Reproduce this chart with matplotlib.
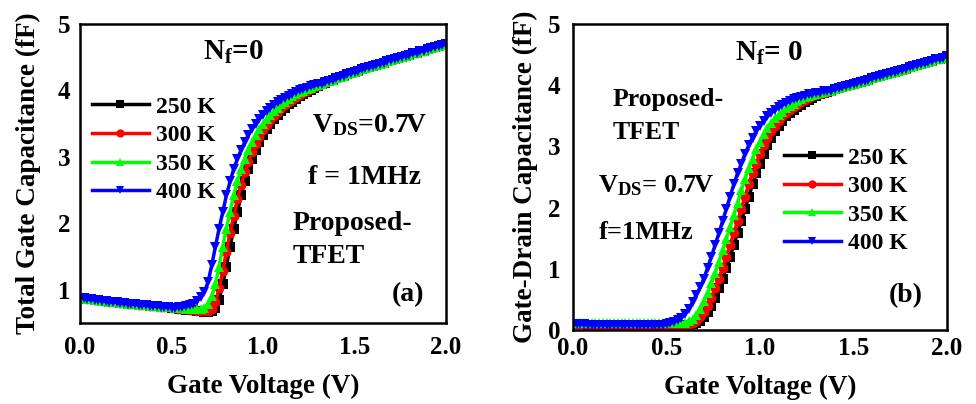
import numpy as np
import matplotlib
matplotlib.use('Agg')
import matplotlib.pyplot as plt

plt.rcParams['font.family'] = ['Liberation Serif', 'DejaVu Serif']
plt.rcParams['font.weight'] = 'bold'
plt.rcParams['mathtext.fontset'] = 'custom'
plt.rcParams['mathtext.rm'] = 'Liberation Serif:bold'
plt.rcParams['mathtext.bf'] = 'Liberation Serif:bold'
plt.rcParams['mathtext.it'] = 'Liberation Serif:bold'

# ---------------- data ----------------
gate_voltage = np.round(np.arange(0, 2.0001, 0.02), 2)   # 0.00 ... 2.00 V sweep
temps = ['250 K', '300 K', '350 K', '400 K']
colors = ['#000000', '#FF0000', '#00FF00', '#0000FF']
markers = ['s', 'o', '^', 'v']
x_ticks = [0.0, 0.5, 1.0, 1.5, 2.0]
x_tick_labels = ['0.0', '0.5', '1.0', '1.5', '2.0']

# Panel (a): total gate capacitance (fF)
# 0.00-0.48 V (curves coincide)
cgg_low = [0.88, 0.87, 0.86, 0.855, 0.85, 0.84, 0.835, 0.83, 0.82, 0.815, 0.81, 0.80, 0.795,
           0.79, 0.785, 0.78, 0.775, 0.77, 0.765, 0.76, 0.755, 0.75, 0.745, 0.74, 0.735]
# 0.50-1.36 V
cgg_250 = [0.73, 0.72, 0.715, 0.71, 0.70, 0.695, 0.69, 0.68, 0.675, 0.67,
           0.67, 0.68, 0.72, 0.85, 1.08, 1.35, 1.65, 1.92, 2.17, 2.42,
           2.63, 2.82, 2.97, 3.10, 3.22, 3.33, 3.42, 3.50, 3.57, 3.63,
           3.69, 3.74, 3.79, 3.83, 3.87, 3.91, 3.95, 3.98, 4.01, 4.04,
           4.07, 4.09, 4.11, 4.14]
cgg_300 = [0.73, 0.72, 0.715, 0.71, 0.705, 0.70, 0.69, 0.685, 0.68, 0.675,
           0.68, 0.71, 0.81, 1.02, 1.28, 1.57, 1.86, 2.11, 2.36, 2.58,
           2.77, 2.93, 3.07, 3.19, 3.30, 3.40, 3.48, 3.55, 3.62, 3.68,
           3.73, 3.78, 3.82, 3.86, 3.90, 3.93, 3.96, 3.99, 4.02, 4.05,
           4.07, 4.09, 4.11, 4.14]
cgg_350 = [0.735, 0.73, 0.725, 0.72, 0.715, 0.71, 0.705, 0.705, 0.71, 0.73,
           0.78, 0.90, 1.08, 1.35, 1.65, 1.92, 2.17, 2.42, 2.63, 2.82,
           2.97, 3.10, 3.22, 3.33, 3.42, 3.50, 3.57, 3.63, 3.69, 3.74,
           3.79, 3.83, 3.87, 3.91, 3.94, 3.97, 3.99, 4.02, 4.04, 4.06,
           4.08, 4.10, 4.12, 4.14]
cgg_400 = [0.73, 0.73, 0.735, 0.74, 0.75, 0.77, 0.79, 0.83, 0.89, 0.97,
           1.12, 1.37, 1.65, 1.92, 2.17, 2.42, 2.63, 2.82, 2.97, 3.10,
           3.22, 3.33, 3.42, 3.50, 3.57, 3.63, 3.69, 3.74, 3.78, 3.82,
           3.86, 3.89, 3.92, 3.95, 3.98, 4.00, 4.02, 4.04, 4.06, 4.08,
           4.09, 4.10, 4.12, 4.14]
# 1.38-2.00 V (curves coincide)
cgg_high = [4.16, 4.18, 4.20, 4.22, 4.24, 4.26, 4.28, 4.30, 4.32, 4.34,
            4.35, 4.37, 4.39, 4.40, 4.42, 4.44, 4.46, 4.47, 4.49, 4.51,
            4.52, 4.54, 4.56, 4.57, 4.59, 4.60, 4.62, 4.64, 4.65, 4.67,
            4.68, 4.70]

# Panel (b): gate-drain capacitance (fF)
cgd_low = [0.09, 0.09, 0.09, 0.09, 0.085, 0.085, 0.085, 0.085, 0.085, 0.08, 0.08, 0.08,
           0.08, 0.08, 0.08, 0.08, 0.08, 0.075, 0.075, 0.075, 0.075, 0.075, 0.075, 0.075, 0.075]
cgd_low_350 = [0.12, 0.12, 0.12, 0.12, 0.115, 0.115, 0.115, 0.115, 0.115, 0.11, 0.11, 0.11,
               0.11, 0.11, 0.11, 0.11, 0.11, 0.11, 0.11, 0.11, 0.11, 0.11, 0.11, 0.11, 0.11]
cgd_250 = [0.075, 0.075, 0.075, 0.075, 0.075, 0.075, 0.08, 0.09, 0.11, 0.15,
           0.21, 0.29, 0.40, 0.53, 0.68, 0.84, 1.02, 1.20, 1.39, 1.58,
           1.78, 1.98, 2.18, 2.38, 2.56, 2.72, 2.88, 3.02, 3.14, 3.25,
           3.34, 3.42, 3.49, 3.54, 3.59, 3.64, 3.68, 3.72, 3.76, 3.79,
           3.83, 3.85, 3.87, 3.89]
cgd_300 = [0.075, 0.075, 0.075, 0.075, 0.075, 0.08, 0.09, 0.11, 0.15, 0.21,
           0.29, 0.40, 0.53, 0.68, 0.84, 1.02, 1.20, 1.39, 1.58, 1.78,
           1.98, 2.18, 2.38, 2.56, 2.72, 2.88, 3.02, 3.14, 3.25, 3.34,
           3.42, 3.49, 3.54, 3.59, 3.64, 3.68, 3.72, 3.76, 3.79, 3.82,
           3.84, 3.86, 3.88, 3.89]
cgd_350 = [0.11, 0.11, 0.11, 0.11, 0.115, 0.12, 0.14, 0.18, 0.25, 0.35,
           0.47, 0.61, 0.76, 0.93, 1.11, 1.30, 1.49, 1.68, 1.88, 2.08,
           2.28, 2.47, 2.64, 2.80, 2.95, 3.08, 3.20, 3.30, 3.38, 3.46,
           3.52, 3.57, 3.62, 3.66, 3.70, 3.74, 3.77, 3.80, 3.82, 3.84,
           3.86, 3.87, 3.89, 3.90]
cgd_400 = [0.09, 0.11, 0.13, 0.16, 0.20, 0.26, 0.35, 0.46, 0.58, 0.70,
           0.84, 1.02, 1.20, 1.39, 1.58, 1.78, 1.98, 2.18, 2.38, 2.56,
           2.72, 2.88, 3.02, 3.14, 3.25, 3.34, 3.42, 3.49, 3.55, 3.60,
           3.64, 3.68, 3.71, 3.74, 3.77, 3.79, 3.81, 3.83, 3.85, 3.86,
           3.87, 3.88, 3.90, 3.91]
cgd_high = [3.91, 3.93, 3.95, 3.97, 3.98, 4.00, 4.02, 4.04, 4.06, 4.07,
            4.09, 4.11, 4.13, 4.15, 4.16, 4.18, 4.20, 4.22, 4.24, 4.25,
            4.27, 4.29, 4.31, 4.33, 4.34, 4.36, 4.38, 4.40, 4.42, 4.43,
            4.45, 4.47]

series_a = [cgg_low + cgg_250 + cgg_high,
            cgg_low + cgg_300 + cgg_high,
            cgg_low + cgg_350 + cgg_high,
            cgg_low + cgg_400 + cgg_high]
series_b = [cgd_low + cgd_250 + cgd_high,
            cgd_low + cgd_300 + cgd_high,
            cgd_low_350 + cgd_350 + cgd_high,
            cgd_low + cgd_400 + cgd_high]
for s in series_a + series_b:
    assert len(s) == len(gate_voltage), len(s)

# ---------------- figure ----------------
fig = plt.figure(figsize=(9.76, 4.04), dpi=100)
ax_a = fig.add_axes([80 / 976, 1 - 323 / 404, 366 / 976, 299 / 404])
ax_b = fig.add_axes([573 / 976, 1 - 330 / 404, 374 / 976, 306 / 404])


def draw(ax, series, ylim, yticks, ylabel, xpad, ypad, xlabpad, ylabpad):
    handles = []
    for vals, c, m, lab in zip(series, colors, markers, temps):
        h, = ax.plot(gate_voltage, vals, color=c, marker=m, markersize=7,
                     linewidth=2.5, markeredgewidth=0, label=lab)
        handles.append(h)
    ax.set_xlim(0, 2.0)
    ax.set_ylim(*ylim)
    ax.set_xticks(x_ticks)
    ax.set_xticklabels(x_tick_labels)
    ax.set_yticks(yticks)
    ax.set_yticklabels([str(t) for t in yticks])
    ax.tick_params(length=0, labelsize=18)
    ax.tick_params(axis='x', pad=xpad)
    ax.tick_params(axis='y', pad=ypad)
    for sp in ax.spines.values():
        sp.set_linewidth(1.8)
    ax.set_xlabel('Gate Voltage (V)', fontsize=19.5, fontweight='bold', labelpad=xlabpad)
    ax.set_ylabel(ylabel, fontsize=19.5, fontweight='bold', labelpad=ylabpad)
    return handles


ha = draw(ax_a, series_a, (0.5, 5), [1, 2, 3, 4, 5], 'Total Gate Capacitance (fF)', 9, 7, 11, 12)
hb = draw(ax_b, series_b, (0, 5), [0, 1, 2, 3, 4, 5], 'Gate-Drain Capacitance (fF)', 5, 9, 11, 7)

leg_kw = dict(loc='upper left', frameon=False, handlelength=2.4, handletextpad=0.3,
              labelspacing=0.3, borderaxespad=0, borderpad=0, numpoints=1, markerscale=0.85,
              prop={'family': 'Liberation Serif', 'weight': 'bold', 'size': 17})
ax_a.legend(ha, temps, bbox_to_anchor=(0.033, 0.759), **leg_kw)
ax_b.legend(hb, temps, bbox_to_anchor=(0.564, 0.598), **leg_kw)

# annotations panel (a)
ta = ax_a.transAxes
ax_a.text(0.418, 0.906, r'N$_{\mathrm{f}}$=0', transform=ta, ha='center', va='center', fontsize=21)
ax_a.text(0.791, 0.662, r'V$_{\mathrm{DS}}$=0.7V', transform=ta, ha='center', va='center', fontsize=20)
ax_a.text(0.776, 0.485, 'f = 1MHz', transform=ta, ha='center', va='center', fontsize=20)
ax_a.text(0.582, 0.334, 'Proposed-', transform=ta, ha='left', va='center', fontsize=20)
ax_a.text(0.582, 0.221, 'TFET', transform=ta, ha='left', va='center', fontsize=20)
ax_a.text(0.896, 0.094, '(a)', transform=ta, ha='center', va='center', fontsize=20)

# annotations panel (b)
tb = ax_b.transAxes
ax_b.text(0.524, 0.905, r'N$_{\mathrm{f}}$= 0', transform=tb, ha='center', va='center', fontsize=21)
ax_b.text(0.107, 0.752, 'Proposed-', transform=tb, ha='left', va='center', fontsize=18.5)
ax_b.text(0.107, 0.647, 'TFET', transform=tb, ha='left', va='center', fontsize=18.5)
ax_b.text(0.067, 0.470, r'V$_{\mathrm{DS}}$= 0.7V', transform=tb, ha='left', va='center', fontsize=19)
ax_b.text(0.070, 0.320, 'f=1MHz', transform=tb, ha='left', va='center', fontsize=19)
ax_b.text(0.890, 0.114, '(b)', transform=tb, ha='center', va='center', fontsize=20)

fig.savefig('out.png', dpi=100)
